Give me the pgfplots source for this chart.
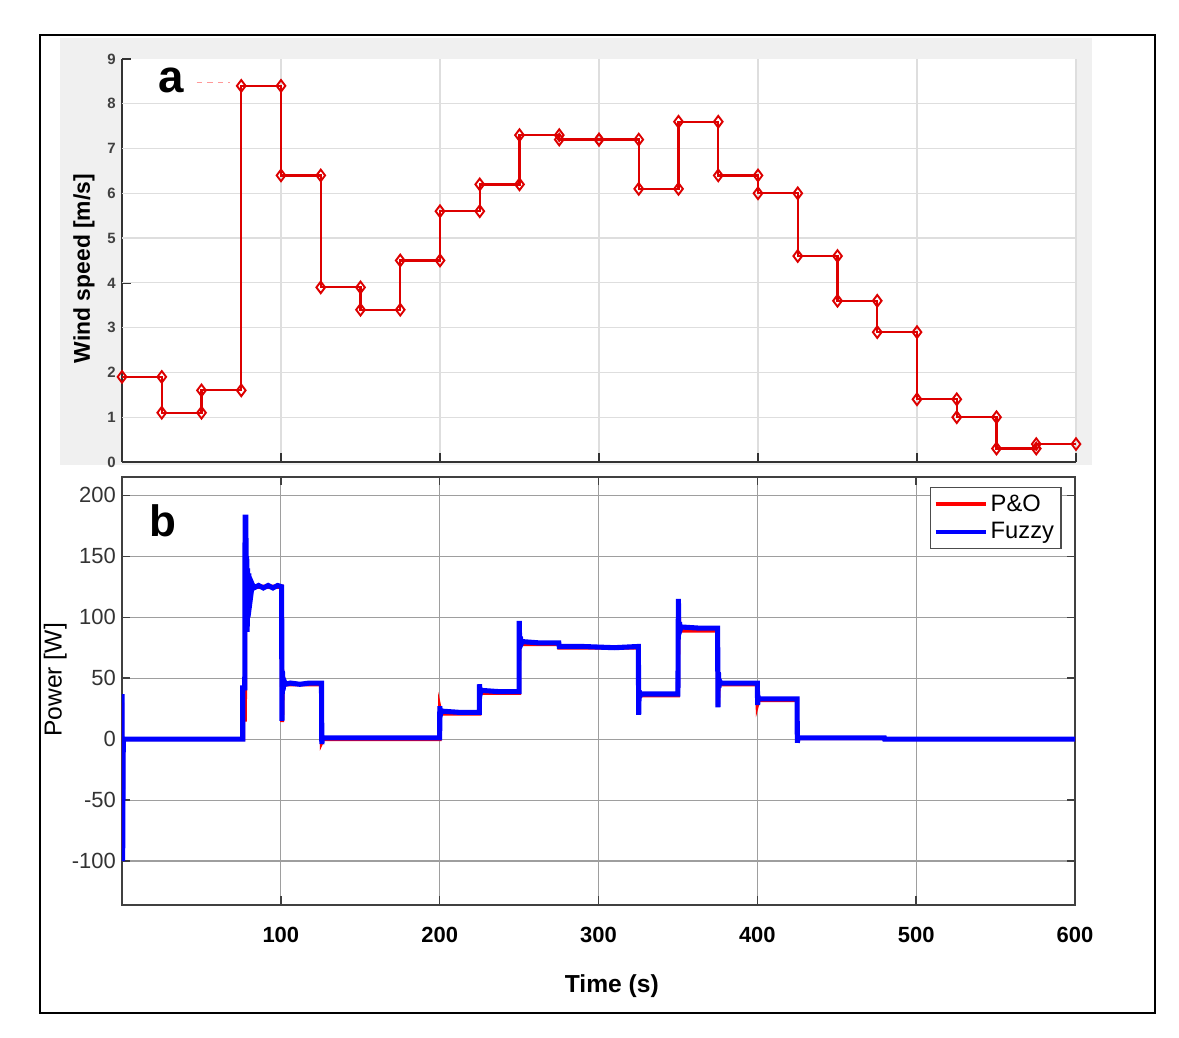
\documentclass[border=0pt]{standalone}
\usepackage{fontspec}
\setmainfont{Liberation Sans}
\usepackage{pgfplots}
\pgfplotsset{compat=1.18}
\definecolor{WindRed}{HTML}{DD0000}
\definecolor{PanelGray}{HTML}{F0F0F0}
\definecolor{TickGray}{HTML}{404040}

\begin{document}
\begin{tikzpicture}
\useasboundingbox (0,0) rectangle (23.58,20.76);
% outer frame and grey panel behind the top plot
\draw[line width=1.5pt] (0.8,0.5) rectangle (23.1,20.06);
\fill[PanelGray] (1.2,11.46) rectangle (21.84,20.0);

% ---- (a) wind speed
\begin{axis}[
  at={(2.44cm,11.52cm)}, anchor=south west,
  scale only axis, width=19.08cm, height=8.06cm,
  xmin=0, xmax=600, ymin=0, ymax=9,
  axis lines*=left,
  axis line style={-, draw=black!80, line width=0.8pt},
  axis background/.style={fill=white},
  xtick={100,200,...,600}, xticklabels={},
  ytick={0,...,9},
  tick align=inside, major tick length=0.17cm,
  tick style={draw=black!80, line width=0.8pt},
  xmajorgrids,
  grid style={draw=black!13, line width=0.7pt},
  extra y ticks={1,...,8}, extra y tick labels={},
  extra y tick style={ymajorgrids=true, major tick length=0pt},
  /pgf/number format/assume math mode=true,
  yticklabel style={font=\fontsize{8.5}{9}\selectfont\bfseries, text=TickGray},
  ylabel={Wind speed [m/s]},
  ylabel style={at={(axis description cs:-0.04,0.48)}, anchor=center,
    font=\fontsize{13}{15}\selectfont\bfseries},
  clip=false,
]
\addplot[red!40, dashed, line width=0.6pt] coordinates {(47,8.48) (68,8.48)};
\addplot[WindRed, line width=1.3pt, mark=diamond, mark size=3.3pt,
  mark options={solid, fill=white, line width=1.1pt}]
 coordinates {
  (0,1.9) (25,1.9) (25,1.1) (50,1.1) (50,1.6) (75,1.6)
  (75,8.4) (100,8.4) (100,6.4) (125,6.4) (125,3.9) (150,3.9)
  (150,3.4) (175,3.4) (175,4.5) (200,4.5) (200,5.6) (225,5.6)
  (225,6.2) (250,6.2) (250,7.3) (275,7.3) (275,7.2) (300,7.2)
  (300,7.2) (325,7.2) (325,6.1) (350,6.1) (350,7.6) (375,7.6)
  (375,6.4) (400,6.4) (400,6.0) (425,6.0) (425,4.6) (450,4.6)
  (450,3.6) (475,3.6) (475,2.9) (500,2.9) (500,1.4) (525,1.4)
  (525,1.0) (550,1.0) (550,0.3) (575,0.3) (575,0.4) (600,0.4)
 };
\node[font=\fontsize{26}{28}\selectfont\bfseries] at (axis description cs:0.052,0.948) {a};
\end{axis}

% ---- (b) power
\begin{axis}[
  at={(2.44cm,2.66cm)}, anchor=south west,
  scale only axis, width=19.06cm, height=8.56cm,
  xmin=0, xmax=600, ymin=-136, ymax=215,
  axis line style={draw=black!75, line width=0.8pt},
  xtick={100,200,...,600},
  ytick={-100,-50,...,200},
  tick align=inside, major tick length=0.17cm,
  tick style={draw=black!75, line width=0.8pt},
  grid=major,
  grid style={draw=black!38, line width=0.7pt},
  /pgf/number format/assume math mode=true,
  yticklabel style={font=\fontsize{12.5}{14}\selectfont, text=black!80},
  xticklabel style={font=\fontsize{12.5}{14}\selectfont\bfseries, yshift=-0.32cm},
  ylabel={Power [W]},
  ylabel style={at={(axis description cs:-0.07,0.526)}, anchor=center,
    font=\fontsize{14}{16}\selectfont},
  xlabel={Time (s)},
  xlabel style={at={(axis description cs:0.514,-0.189)}, anchor=center,
    font=\fontsize{14}{16}\selectfont\bfseries},
  legend style={at={(rel axis cs:0.986,0.977)}, anchor=north east,
    draw=black!70, line width=0.7pt, fill=white,
    font=\fontsize{13.5}{15}\selectfont, inner sep=2pt, row sep=1pt},
  legend image code/.code={\draw[#1, line width=1.8pt] (0cm,0cm) -- (1.0cm,0cm);},
  legend cell align=left,
]
\addplot[red, line width=2.3pt] coordinates {
  (0,30) (0.4,-90) (0.8,0) (76.3,0) (76.3,40) (76.9,40) (76.9,16) (77.4,16)
  (77.6,142) (78.2,100) (78.8,138) (79.5,112) (80.3,130) (81.5,123) (83,125)
  (100.6,125) (100.8,14) (101.3,52) (102,45) (125.6,45) (125.8,-2) (126.5,0)
  (200,0) (200.2,24) (200.7,21) (225,21) (225.2,42) (225.7,38) (250,38)
  (250.2,96) (250.6,78) (251.5,78) (275,78) (275.3,75) (325,75)
  (325.2,24) (325.6,36) (350,36) (350.2,70) (350.5,105) (351,89) (375,89)
  (375.2,28) (375.7,45) (400,45) (400.2,30) (400.6,32) (425,32)
  (425.2,-2) (425.6,0.8) (480,0.8) (480.2,0) (600,0)
 };
\addlegendentry{P\&O}
\addplot[blue, line width=2.9pt] coordinates {
  (0,37) (0.4,-100) (0.8,0) (76,0) (76,42) (77.3,42) (77.5,182) (78,182)
  (78.2,95) (78.5,150) (78.8,88) (79.1,140) (79.4,100) (79.8,136) (80.2,110)
  (80.7,130) (81.3,120) (82,127) (83,124) (86,126) (89,124) (92,126)
  (95,124) (98,126) (100.5,125) (100.7,15) (101,56) (101.4,40) (102,48)
  (103,45) (106,46) (112,45) (118,46) (125.6,46) (125.8,-4) (126.2,1)
  (200,1) (200.1,27) (200.5,20) (201,23) (212,22) (225,22)
  (225.1,45) (225.5,37) (226,40) (237,39) (250,39)
  (250.1,97) (250.4,75) (250.8,84) (251.3,78) (252,80) (262,79) (275,79)
  (275.3,76) (290,76) (310,75) (325,76)
  (325.1,76) (325.3,20) (325.6,40) (326,35) (327,37) (350,37)
  (350.1,60) (350.3,115) (350.6,86) (351,96) (351.5,90) (352,92) (364,91) (375,91)
  (375.2,26) (375.5,55) (375.8,42) (376.2,48) (377,46) (390,46) (400,46)
  (400.2,28) (400.5,35) (401,33) (413,33) (425,33)
  (425.2,-3) (425.5,1) (480,1) (480.2,0) (600,0)
 };
\addlegendentry{Fuzzy}
\node[font=\fontsize{25}{28}\selectfont\bfseries] at (axis description cs:0.043,0.897) {b};
\end{axis}
\end{tikzpicture}
\end{document}
